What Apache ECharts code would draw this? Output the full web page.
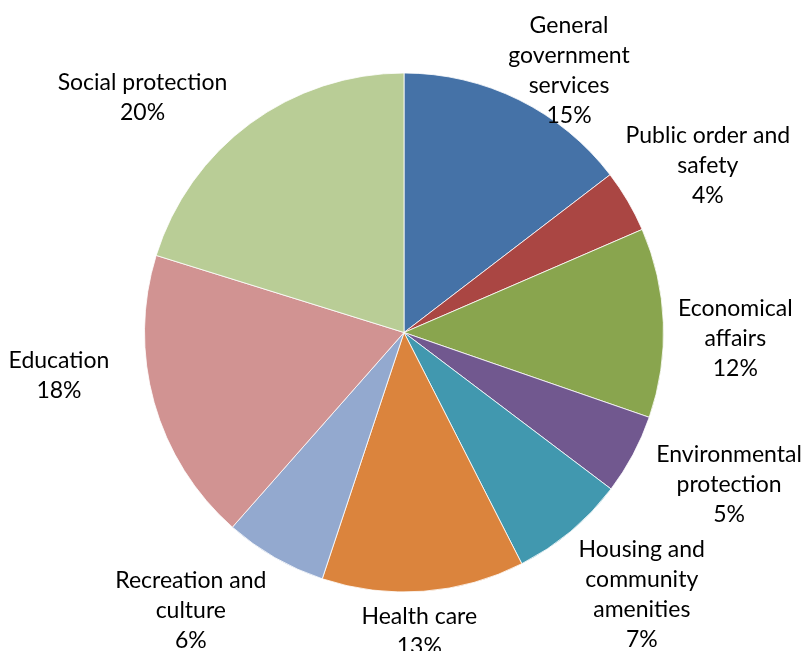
<!DOCTYPE html>
<html>
<head>
<meta charset="utf-8">
<script src="https://cdn.jsdelivr.net/npm/echarts@6/dist/echarts.min.js"></script>
<style>
html,body{margin:0;padding:0;background:#fff;}
#chart{width:803px;height:651px;}
</style>
</head>
<body>
<div id="chart"></div>
<script>
// Categories (clockwise from 12 o'clock)
const categories = [
  'General\ngovernment\nservices',
  'Public order and\nsafety',
  'Economical\naffairs',
  'Environmental\nprotection',
  'Housing and\ncommunity\namenities',
  'Health care',
  'Recreation and\nculture',
  'Education',
  'Social protection'
];
// Share of spending (%)
const values = [14.6, 3.9, 11.8, 5.0, 7.2, 12.6, 6.4, 18.3, 20.2];
const colors = ['#4572A7', '#AA4643', '#89A54E', '#71588F', '#4198AF', '#DB843D', '#93A9CF', '#D19392', '#B9CD96'];
// label nudges from the library's outside anchor (styling only)
const labelShift = [[28, 16], [37, -10], [22, 18], [52, 6], [39, 25], [-8, -10], [-59, 10], [-47, -40], [-78, 14]];

const chart = echarts.init(document.getElementById('chart'));
const data = categories.map((c, i) => ({ name: c, value: values[i], itemStyle: { color: colors[i] } }));

chart.setOption({
  animation: false,
  series: [{
    type: 'pie',
    center: [404, 332.5],
    radius: 259.5,
    startAngle: 90,
    clockwise: true,
    avoidLabelOverlap: false,
    percentPrecision: 0,
    itemStyle: { borderColor: '#ffffff', borderWidth: 0.8 },
    label: {
      show: true,
      position: 'outside',
      formatter: '{b}\n{d}%',
      fontFamily: 'Lato',
      fontSize: 23,
      lineHeight: 30,
      color: '#000'
    },
    labelLine: { show: true, length: 50, length2: 0, lineStyle: { color: 'rgba(0,0,0,0)', width: 0 } },
    labelLayout: function (p) {
      const s = labelShift[p.dataIndex];
      let ax, ay;
      if (p.labelLinePoints && p.labelLinePoints.length > 1) {
        ax = p.labelLinePoints[1][0];
        ay = p.labelLinePoints[1][1];
      } else {
        ax = p.labelRect.x + p.labelRect.width / 2;
        ay = p.labelRect.y + p.labelRect.height / 2;
      }
      return { x: ax + s[0], y: ay + s[1], align: 'center', verticalAlign: 'middle' };
    },
    emphasis: { disabled: true },
    data: data
  }]
});
</script>
</body>
</html>
